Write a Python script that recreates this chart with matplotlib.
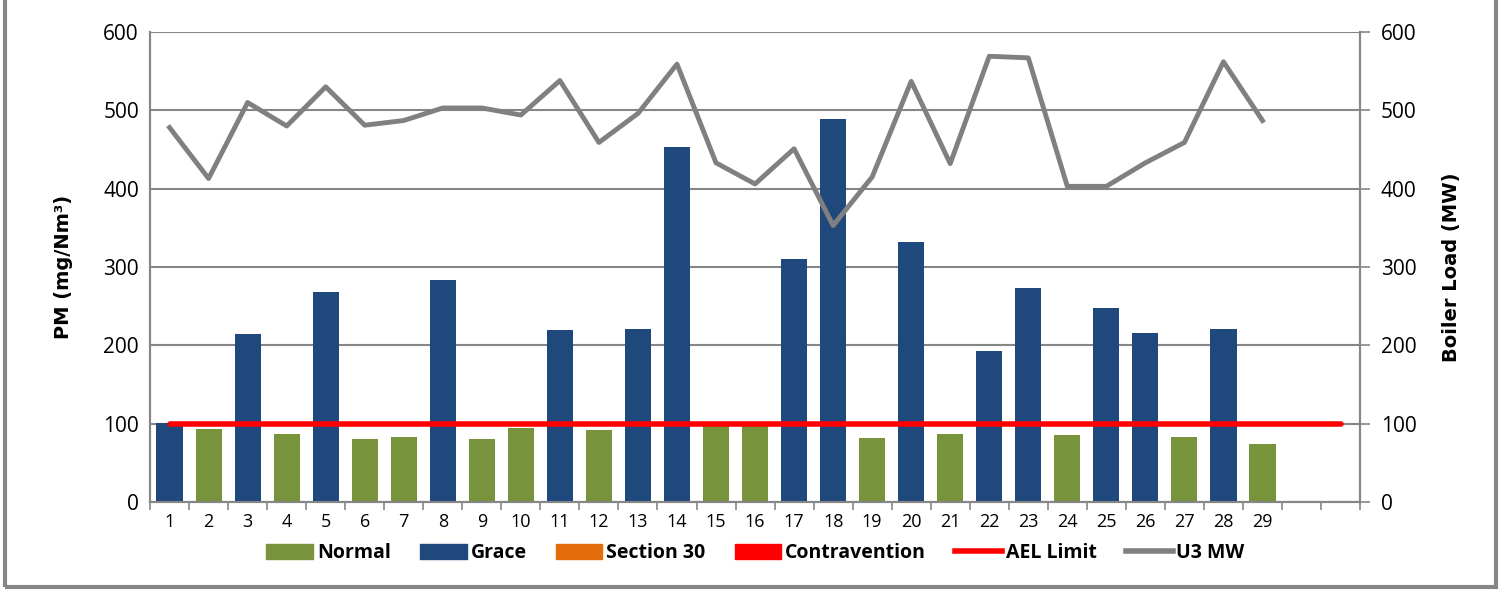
import matplotlib.pyplot as plt
import numpy as np
from matplotlib.patches import Patch, Rectangle
from matplotlib.lines import Line2D

days = list(range(1, 30))
n_slots = 31
pm = [101, 93, 214, 87, 268, 80, 83, 284, 81, 95, 219, 92, 221, 453, 99,
      100, 310, 489, 82, 332, 87, 193, 273, 86, 248, 216, 83, 221, 74]
status = ["G", "N", "G", "N", "G", "N", "N", "G", "N", "N", "G", "N", "G", "G", "N",
          "N", "G", "G", "N", "G", "N", "G", "G", "N", "G", "G", "N", "G", "N"]
u3_mw = [478, 413, 510, 480, 530, 481, 487, 503, 503, 494, 538, 459, 496, 559, 433,
         406, 451, 353, 415, 537, 432, 569, 567, 403, 403, 433, 459, 562, 487]
ael_limit = 100

c_normal = "#77933c"
c_grace = "#1f497d"
c_s30 = "#e46c0a"
c_contra = "#ff0000"
c_mw = "#808080"
c_grid = "#868686"

plt.rcParams['font.family'] = ['Open Sans', 'DejaVu Sans']

fig = plt.figure(figsize=(15.02, 5.9), dpi=100)
ax = fig.add_axes([0.0999, 0.149, 0.8056, 0.7968])
ax2 = ax.twinx()

x = np.arange(len(days))
colors = [c_normal if s == "N" else c_grace for s in status]
ax.bar(x, pm, width=0.67, color=colors, zorder=2)
ax.plot([0, n_slots - 1], [ael_limit, ael_limit], color=c_contra, lw=4,
        solid_capstyle="round", zorder=3)
ax2.plot(x, u3_mw, color=c_mw, lw=3.5, zorder=3)

for a in (ax, ax2):
    a.set_ylim(0, 600)
    a.set_xlim(-0.5, n_slots - 0.5)
ax.set_yticks(range(0, 601, 100))
ax2.set_yticks(range(0, 601, 100))
ax.grid(axis="y", color=c_grid, lw=1.5, zorder=0)
ax.set_axisbelow(True)

ax.set_xticks(np.arange(-0.5, n_slots, 1))
ax.set_xticklabels([])
ax.set_xticks(x, minor=True)
ax.set_xticklabels([str(d) for d in days], minor=True, fontsize=13)
ax.tick_params(axis="x", which="major", length=6, color=c_grid, width=1.2)
ax.tick_params(axis="x", which="minor", length=0, pad=8)
ax.tick_params(axis="y", length=0, labelsize=15, pad=8)
ax2.tick_params(axis="y", length=7, color=c_grid, width=1.2, labelsize=15, pad=8)

for a in (ax, ax2):
    a.spines["top"].set_visible(False)
    for side in ("left", "right", "bottom"):
        a.spines[side].set_color(c_grid)
        a.spines[side].set_linewidth(1.5)

ax.set_ylabel("PM (mg/Nm³)", fontsize=14, fontweight="bold", family="DejaVu Sans",
              labelpad=22)
ax2.set_ylabel("Boiler Load (MW)", fontsize=14, fontweight="bold", family="DejaVu Sans",
               labelpad=18)

handles = [Patch(color=c_normal), Patch(color=c_grace), Patch(color=c_s30),
           Patch(color=c_contra),
           Line2D([], [], color=c_contra, lw=4),
           Line2D([], [], color=c_mw, lw=4)]
labels = ["Normal", "Grace", "Section 30", "Contravention", "AEL Limit", "U3 MW"]
fig.legend(handles, labels, loc="center", bbox_to_anchor=(0.503, 0.063), ncol=6,
           frameon=False, handlelength=2.4, handleheight=0.8, handletextpad=0.2,
           columnspacing=1.5, prop={"weight": "bold", "size": 14})

fig.patches.append(Rectangle((0.003, 0.005), 0.993, 1.2, transform=fig.transFigure,
                             fill=False, edgecolor=c_grid, lw=3))

fig.savefig("out.png", dpi=100)
